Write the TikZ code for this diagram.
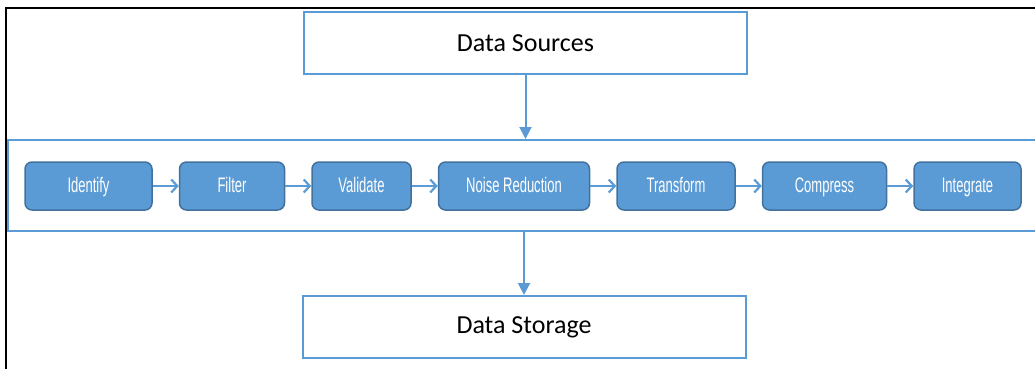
\documentclass[tikz,border=0pt]{standalone}
\usepackage{fontspec}
\setmainfont{Carlito}
\newfontfamily\stepfont[FakeStretch=0.62]{Liberation Sans}
\usepackage{xcolor}
\usetikzlibrary{arrows.meta, positioning}
\definecolor{boxblue}{HTML}{5B9BD5}
\definecolor{boxedge}{HTML}{41719C}
\definecolor{lineblue}{HTML}{5B9BD5}

\begin{document}
\begin{tikzpicture}[x=1pt,y=-1pt,
    stagebox/.style={draw=lineblue,line width=2pt,minimum width=443pt,
      minimum height=62pt,font=\fontsize{26}{30}\selectfont},
    stepbox/.style={draw=boxedge,fill=boxblue,line width=1.5pt,
      rounded corners=7pt,minimum height=48pt,text=white,
      text height=15pt,text depth=3pt,
      font=\stepfont\fontsize{21}{24}\selectfont},
    link/.style={lineblue,line width=2.2pt,-{Straight Barb[length=6pt,width=13pt]}},
    flow/.style={lineblue,line width=2pt,-{Triangle[length=12pt,width=12pt]}},
    node distance=26pt]
  \clip (0,0) rectangle (1035,369);
  \draw[line width=2.5pt] (6,380)--(6,8)--(1045,8);
  % top and bottom stages
  \node[stagebox] (src) at (525.5,43) {Data Sources};
  \node[stagebox] (store) at (524,327) {Data Storage};
  \node[draw=lineblue,line width=2pt,minimum width=1037pt,minimum height=91pt]
    (band) at (526.5,185.5) {};
  % processing steps
  \node[stepbox,minimum width=127pt] (identify) at (88.5,186) {Identify};
  \node[stepbox,minimum width=105pt,right=of identify] (filter) {Filter};
  \node[stepbox,minimum width=99pt,right=of filter] (validate) {Validate};
  \node[stepbox,minimum width=151pt,right=of validate] (noise) {Noise Reduction};
  \node[stepbox,minimum width=118pt,right=of noise] (transform) {Transform};
  \node[stepbox,minimum width=124pt,right=of transform] (compress) {Compress};
  \node[stepbox,minimum width=107pt,right=of compress] (integrate) {Integrate};
  \foreach \a/\b in {identify/filter,filter/validate,validate/noise,
      noise/transform,transform/compress,compress/integrate}
    \draw[link] (\a) -- (\b);
  \draw[flow] (src.south) -- (src.south |- band.north);
  \draw[flow] (store.north |- band.south) -- (store.north);
\end{tikzpicture}
\end{document}
